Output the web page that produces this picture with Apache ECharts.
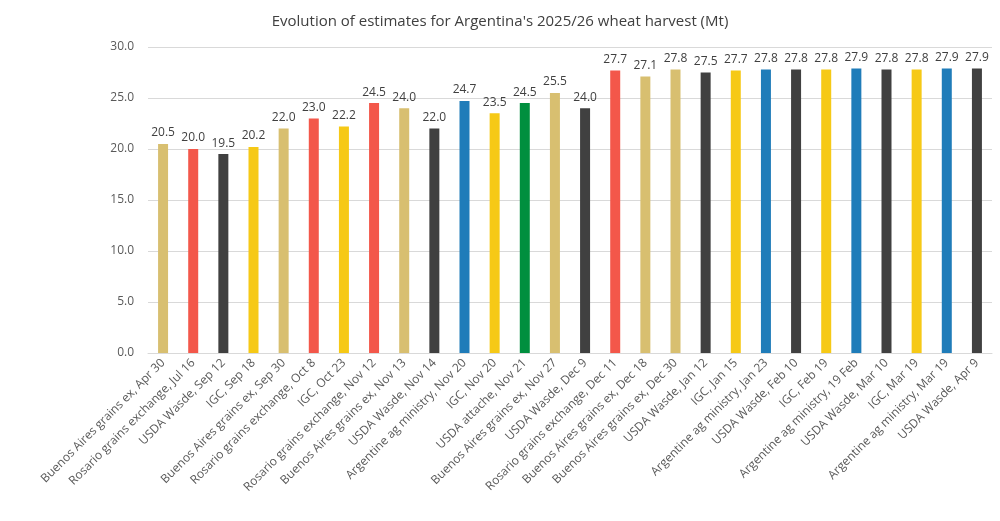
<!DOCTYPE html>
<html>
<head>
<meta charset="utf-8">
<script src="https://cdn.jsdelivr.net/npm/echarts@6/dist/echarts.min.js"></script>
<style>
  html, body { margin: 0; padding: 0; background: #fff; }
  #chart { width: 1000px; height: 521px; }
</style>
</head>
<body>
<div id="chart"></div>
<script>
// estimate labels, in date order
var categories = [
  'Buenos Aires grains ex, Apr 30', 'Rosario grains exchange, Jul 16', 'USDA Wasde, Sep 12',
  'IGC, Sep 18', 'Buenos Aires grains ex, Sep 30', 'Rosario grains exchange, Oct 8',
  'IGC, Oct 23', 'Rosario grains exchange, Nov 12', 'Buenos Aires grains ex, Nov 13',
  'USDA Wasde, Nov 14', 'Argentine ag ministry, Nov 20', 'IGC, Nov 20',
  'USDA attache, Nov 21', 'Buenos Aires grains ex, Nov 27', 'USDA Wasde, Dec 9',
  'Rosario grains exchange, Dec 11', 'Buenos Aires grains ex, Dec 18', 'Buenos Aires grains ex, Dec 30',
  'USDA Wasde, Jan 12', 'IGC, Jan 15', 'Argentine ag ministry, Jan 23',
  'USDA Wasde, Feb 10', 'IGC, Feb 19', 'Argentine ag ministry, 19 Feb',
  'USDA Wasde, Mar 10', 'IGC, Mar 19', 'Argentine ag ministry, Mar 19', 'USDA Wasde, Apr 9'
];
// who made each estimate
var sources = [
  'baires', 'rosario', 'wasde', 'igc', 'baires', 'rosario', 'igc', 'rosario', 'baires',
  'wasde', 'ministry', 'igc', 'attache', 'baires', 'wasde', 'rosario', 'baires', 'baires',
  'wasde', 'igc', 'ministry', 'wasde', 'igc', 'ministry', 'wasde', 'igc', 'ministry', 'wasde'
];
var harvest = [
  20.5, 20.0, 19.5, 20.2, 22.0, 23.0, 22.2, 24.5, 24.0, 22.0, 24.7, 23.5, 24.5, 25.5,
  24.0, 27.7, 27.1, 27.8, 27.5, 27.7, 27.8, 27.8, 27.8, 27.9, 27.8, 27.8, 27.9, 27.9
];

var sourceColor = {
  baires: '#D8BF70',
  rosario: '#F3574A',
  wasde: '#404040',
  igc: '#F6C916',
  ministry: '#1F7CB9',
  attache: '#008F3E'
};

var font = '"Open Sans", sans-serif';
var chart = echarts.init(document.getElementById('chart'));
chart.setOption({
  animation: false,
  textStyle: { fontFamily: font },
  title: {
    text: "Evolution of estimates for Argentina's 2025/26 wheat harvest (Mt)",
    left: 'center',
    top: 9,
    textStyle: { fontSize: 15, fontWeight: 'normal', color: '#404040', fontFamily: font }
  },
  grid: { left: 148, right: 8, top: 47, bottom: 168 },
  xAxis: {
    type: 'category',
    data: categories,
    axisLine: { lineStyle: { color: '#D9D9D9' } },
    axisTick: { show: false },
    axisLabel: { rotate: 45, interval: 0, fontSize: 12, color: '#595959', margin: 8 }
  },
  yAxis: {
    type: 'value',
    min: 0,
    max: 30,
    interval: 5,
    axisLine: { show: false },
    axisTick: { show: false },
    splitLine: { lineStyle: { color: '#D9D9D9' } },
    axisLabel: { fontSize: 12, color: '#595959', margin: 14,
      formatter: function (v) { return v.toFixed(1); } }
  },
  series: [{
    type: 'bar',
    barWidth: 10,
    data: harvest.map(function (v, i) {
      return { value: v, itemStyle: { color: sourceColor[sources[i]] } };
    }),
    label: {
      show: true,
      position: 'top',
      distance: 5,
      fontSize: 12,
      color: '#404040',
      formatter: function (p) { return p.value.toFixed(1); }
    }
  }]
});
</script>
</body>
</html>
